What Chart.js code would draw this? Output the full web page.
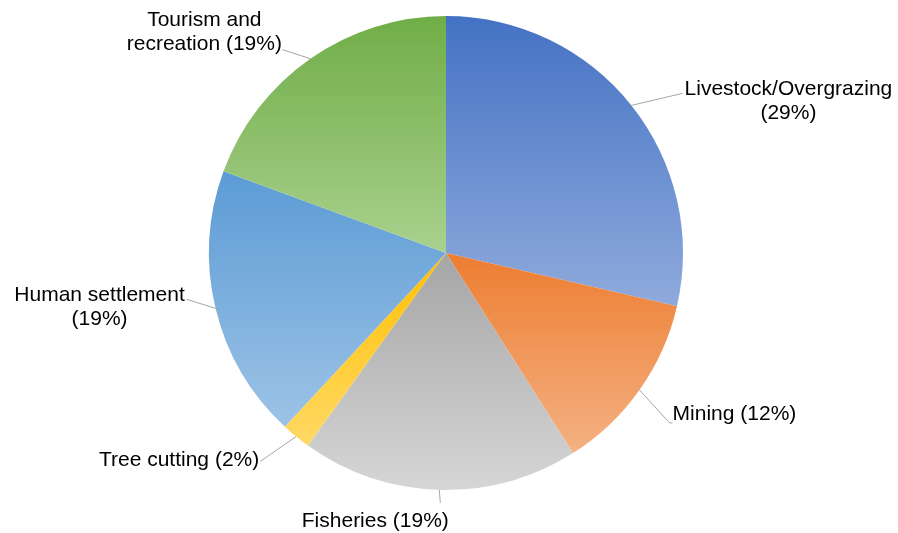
<!DOCTYPE html>
<html>
<head>
<meta charset="utf-8">
<script src="https://cdn.jsdelivr.net/npm/chart.js@4.4.1/dist/chart.umd.min.js"></script>
<style>
  html, body { margin: 0; padding: 0; background: #fff; }
  #wrap { width: 898px; height: 533px; }
</style>
</head>
<body>
<div id="wrap"><canvas id="pie"></canvas></div>
<script>
// Threats (share of mentions, %) - slice sizes
const categories = ['Livestock/Overgrazing', 'Mining', 'Fisheries', 'Tree cutting', 'Human settlement', 'Tourism and recreation'];
const shares = [28.6, 12.4, 18.9, 2.0, 18.7, 19.4];
const labelLines = [
  ['Livestock/Overgrazing', '(29%)'],
  ['Mining (12%)'],
  ['Fisheries (19%)'],
  ['Tree cutting (2%)'],
  ['Human settlement', '(19%)'],
  ['Tourism and', 'recreation (19%)'],
];

// gradient stops per slice: top colour -> bottom colour
const topColors = ['#4472c4', '#ed7d31', '#a5a5a5', '#ffc000', '#5b9bd5', '#70ad47'];
const bottomColors = ['#8faadc', '#f4b183', '#d6d6d6', '#ffd966', '#9dc3e6', '#a9d18e'];

// leader line end + text centre, relative to the slice edge point
const labelLayout = [
  { end: [51, -12], text: [157, -4] },
  { end: [30, 33], text: [95, 24], elbow: true },
  { end: [1, 13], text: [-64, 31] },
  { end: [-36, 25], text: [-117, 24] },
  { end: [-29, -9], text: [-116, -1] },
  { end: [-28, -9], text: [-106, -26] },
];

const LABEL_FONT = '21px "Liberation Sans", Arial, sans-serif';

function sliceYRange(el) {
  const { x, y, startAngle, endAngle, outerRadius: r } = el.getProps(['x', 'y', 'startAngle', 'endAngle', 'outerRadius']);
  const ys = [y, y + r * Math.sin(startAngle), y + r * Math.sin(endAngle)];
  const TAU = Math.PI * 2;
  const inRange = (a) => {
    const s = ((startAngle % TAU) + TAU) % TAU;
    const t = ((a % TAU) + TAU) % TAU;
    const d = ((t - s) + TAU) % TAU;
    return d <= endAngle - startAngle;
  };
  if (inRange(-Math.PI / 2)) ys.push(y - r);
  if (inRange(Math.PI / 2)) ys.push(y + r);
  return [Math.min(...ys), Math.max(...ys)];
}

const gradientFill = {
  id: 'gradientFill',
  beforeDatasetsDraw(chart) {
    const ctx = chart.ctx;
    const meta = chart.getDatasetMeta(0);
    meta.data.forEach((el, i) => {
      const [y0, y1] = sliceYRange(el);
      const g = ctx.createLinearGradient(0, y0, 0, y1);
      g.addColorStop(0, topColors[i]);
      g.addColorStop(1, bottomColors[i]);
      el.options.backgroundColor = g;
    });
  }
};

const outsideLabels = {
  id: 'outsideLabels',
  afterDatasetsDraw(chart) {
    const ctx = chart.ctx;
    const meta = chart.getDatasetMeta(0);
    ctx.save();
    meta.data.forEach((el, i) => {
      const { x, y, startAngle, endAngle, outerRadius: r } = el.getProps(['x', 'y', 'startAngle', 'endAngle', 'outerRadius']);
      const mid = (startAngle + endAngle) / 2;
      const ex = x + r * Math.cos(mid);
      const ey = y + r * Math.sin(mid);
      const lay = labelLayout[i];
      const lx = ex + lay.end[0];
      const ly = ey + lay.end[1];

      ctx.strokeStyle = '#a6a6a6';
      ctx.lineWidth = 1;
      ctx.beginPath();
      ctx.moveTo(ex, ey);
      ctx.lineTo(lx, ly);
      if (lay.elbow) ctx.lineTo(lx + 3, ly);
      ctx.stroke();

      const lines = labelLines[i];
      const tx = ex + lay.text[0];
      const ty = ey + lay.text[1];
      const lh = 24;
      ctx.font = LABEL_FONT;
      ctx.fillStyle = '#000';
      ctx.textAlign = 'center';
      ctx.textBaseline = 'middle';
      lines.forEach((t, k) => {
        ctx.fillText(t, tx, ty + (k - (lines.length - 1) / 2) * lh);
      });
    });
    ctx.restore();
  }
};

new Chart(document.getElementById('pie'), {
  type: 'pie',
  data: {
    labels: categories,
    datasets: [{
      data: shares,
      backgroundColor: topColors,
      borderWidth: 0,
      hoverOffset: 0,
    }],
  },
  options: {
    responsive: true,
    maintainAspectRatio: false,
    animation: false,
    layout: { padding: { top: 16, bottom: 43, left: 100, right: 106 } },
    plugins: {
      legend: { display: false },
      tooltip: { enabled: false },
    },
  },
  plugins: [gradientFill, outsideLabels],
});
</script>
</body>
</html>
